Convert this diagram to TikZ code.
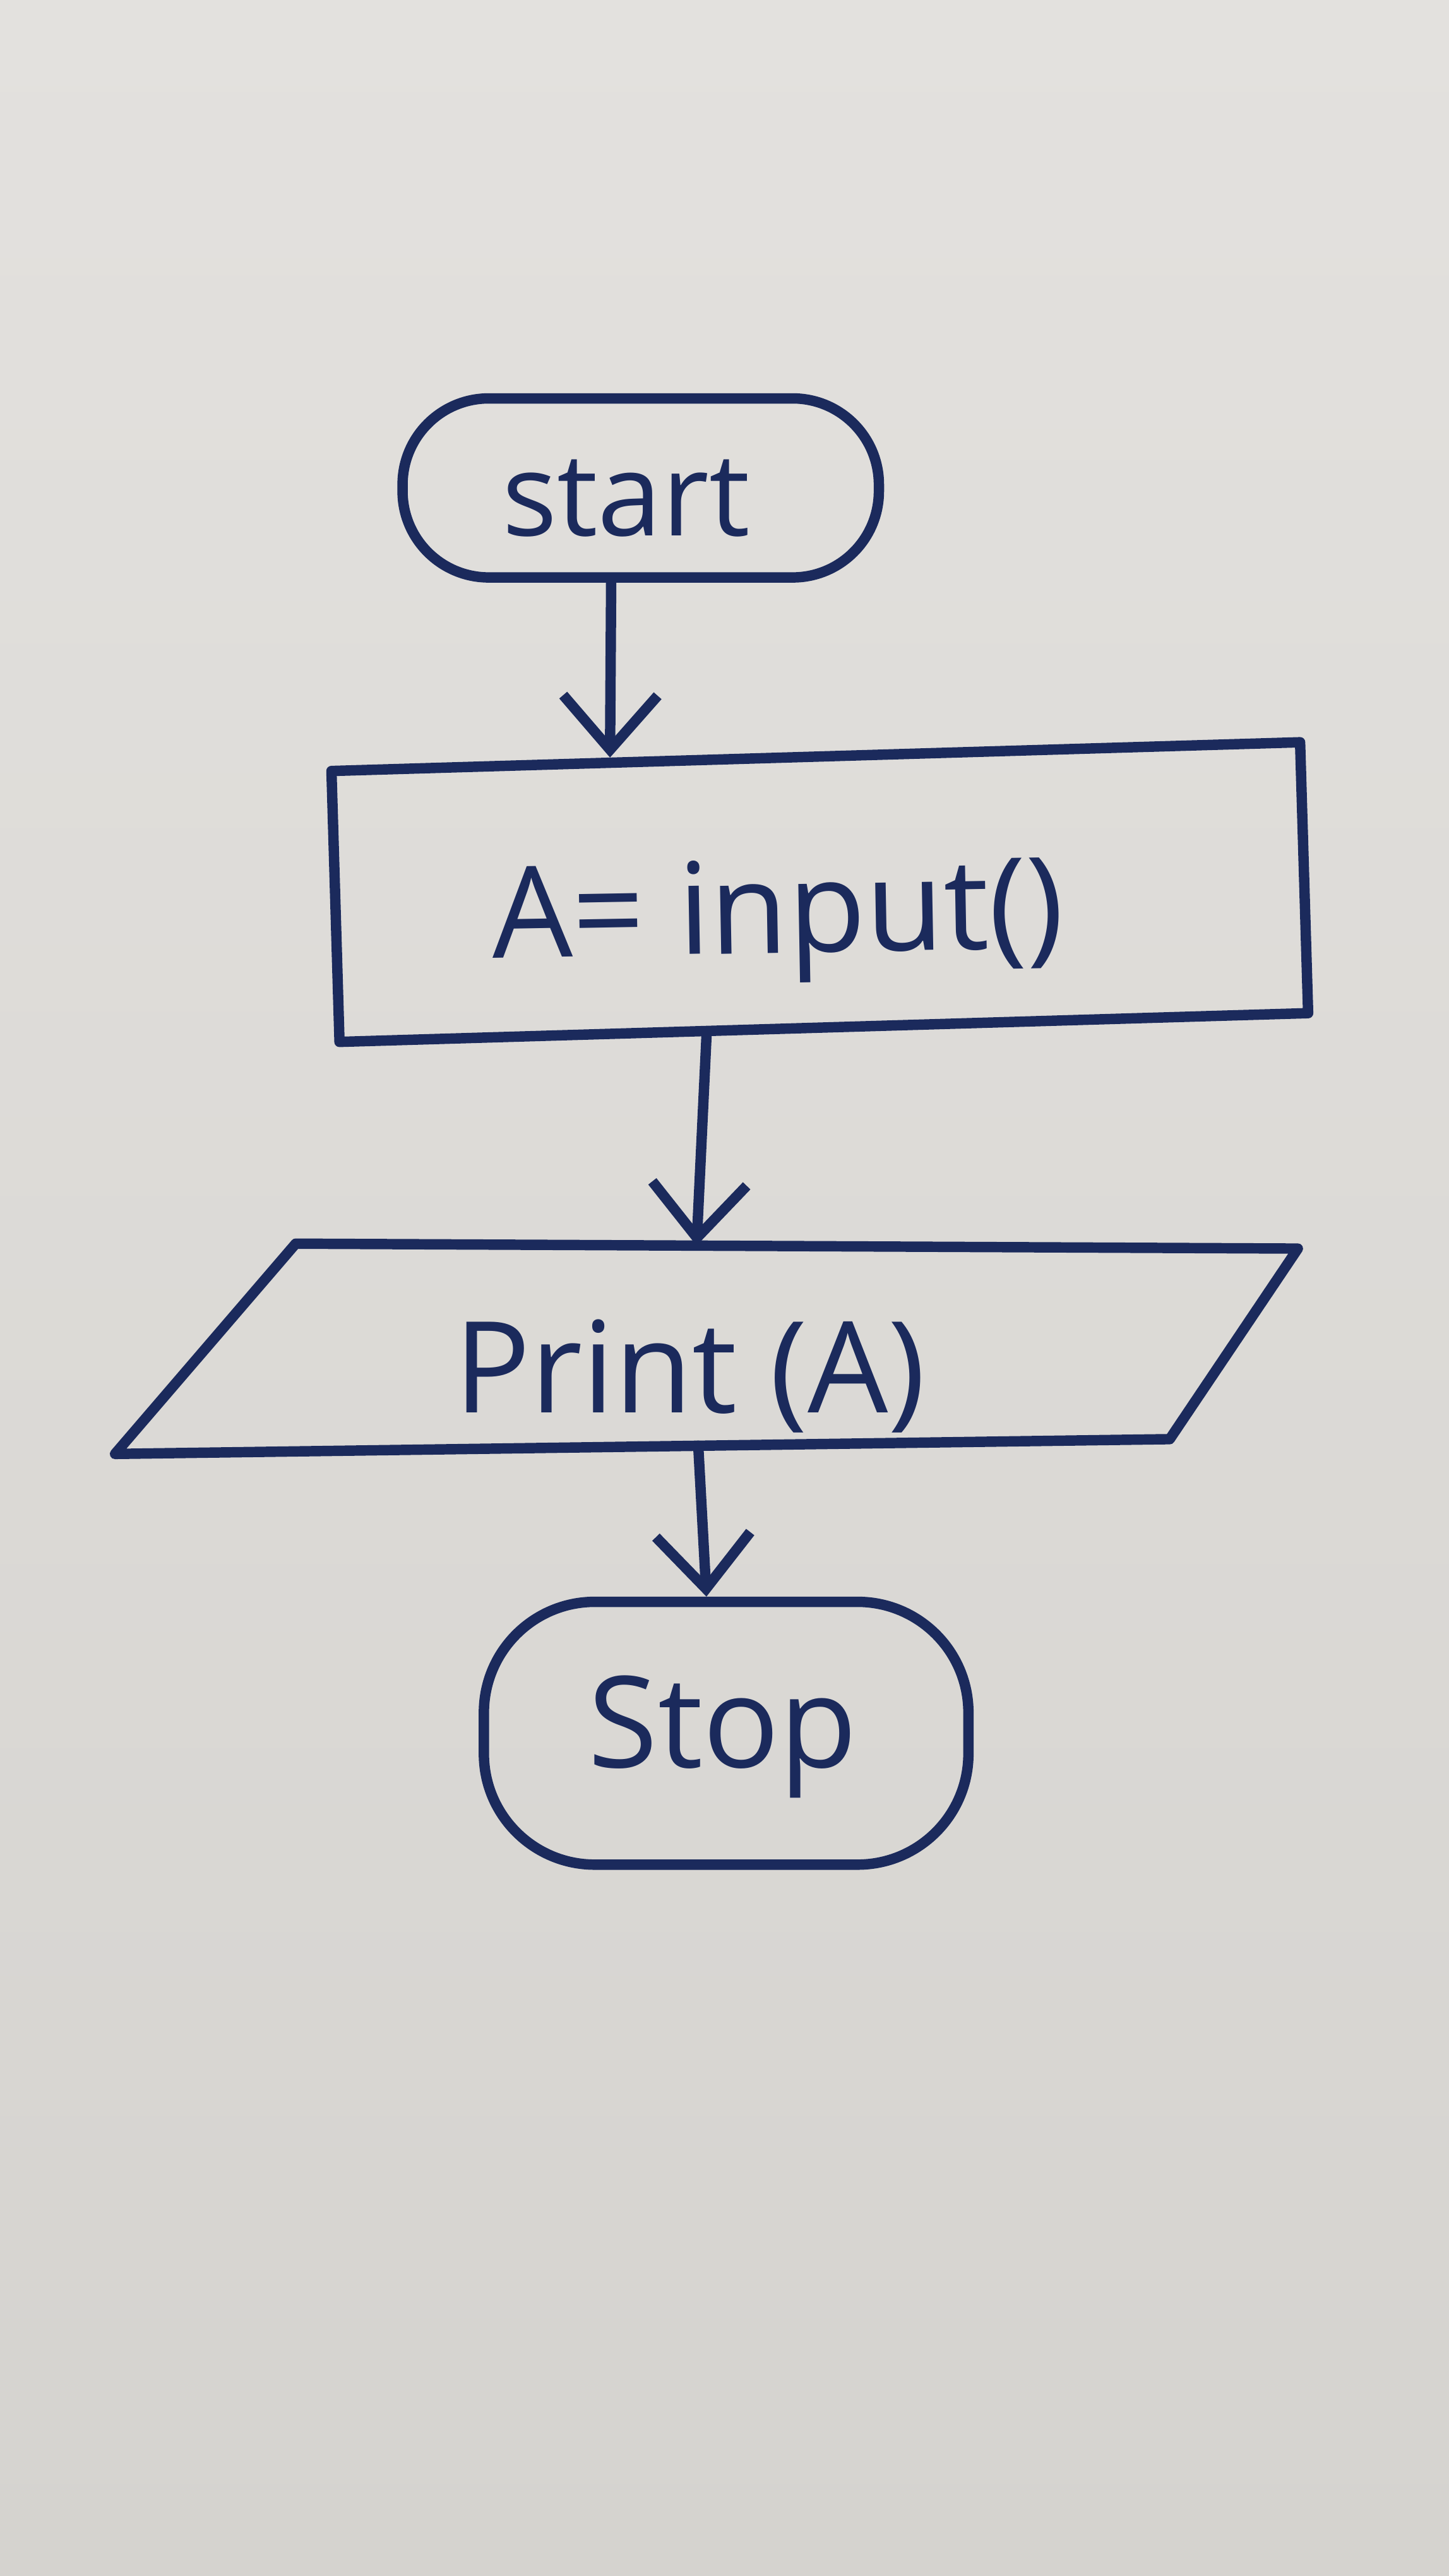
\documentclass[tikz,border=0pt]{standalone}
\usepackage{fontspec}
\setmainfont{Open Sans}
\usetikzlibrary{arrows.meta,calc}
\definecolor{ink}{HTML}{1B2A5C}
\definecolor{papertop}{HTML}{E3E1DE}
\definecolor{paperbot}{HTML}{D5D3CF}
\tikzset{
  pen/.style={draw=ink, line width=3.6pt, line cap=round, line join=round},
  terminal/.style={pen, rectangle, inner sep=0pt},
  procbox/.style={pen, rectangle, inner sep=0pt, minimum width=11.8cm, minimum height=3.3cm},
  label/.style={text=ink, anchor=base, font=\fontsize{44}{50}\selectfont},
  arr/.style={pen, -{Straight Barb[length=0.66cm, width=1.15cm, line width=3.6pt]}},
}
\begin{document}
\begin{tikzpicture}[x=0.02cm, y=-0.02cm]
  \shade[top color=papertop, bottom color=paperbot] (0,0) rectangle (882,1568);
  \useasboundingbox (0,0) rectangle (882,1568);

  \node[terminal, rounded corners=1.05cm, minimum width=5.8cm, minimum height=2.18cm] (start) at (390,297) {};
  \node[procbox, rotate=1.7] (input) at (499,543) {};
  % parallelogram (input/output)
  \coordinate (ptl) at (180,757);
  \coordinate (ptr) at (790,760);
  \coordinate (pbr) at (712,876);
  \coordinate (pbl) at (70,885);
  \draw[pen] (ptl) -- (ptr) -- (pbr) -- (pbl) -- cycle;
  \node[terminal, rounded corners=1.35cm, minimum width=5.9cm, minimum height=3.2cm] (stop) at (442,1055) {};

  \node[label, font=\fontsize{40}{46}\selectfont] (tstart) at (381,326) {start};
  \node[label, rotate=1] (tinput) at (474,580) {A= input()};
  \node[label] (tprint) at (420,860) {Print (A)};
  \node[label] (tstop) at (440,1076) {Stop};

  \coordinate (printin) at ($(ptl)!0.40!(ptr)$);
  \coordinate (printout) at ($(pbl)!0.553!(pbr)$);

  \draw[arr] ([xshift=-0.36cm]start.south) -- ($(input.north west)!0.29!(input.north east)$);
  \draw[arr] ($(input.south west)!0.38!(input.south east)$) -- (printin);
  \draw[arr] (printout) -- ([xshift=-0.24cm]stop.north);
\end{tikzpicture}
\end{document}
